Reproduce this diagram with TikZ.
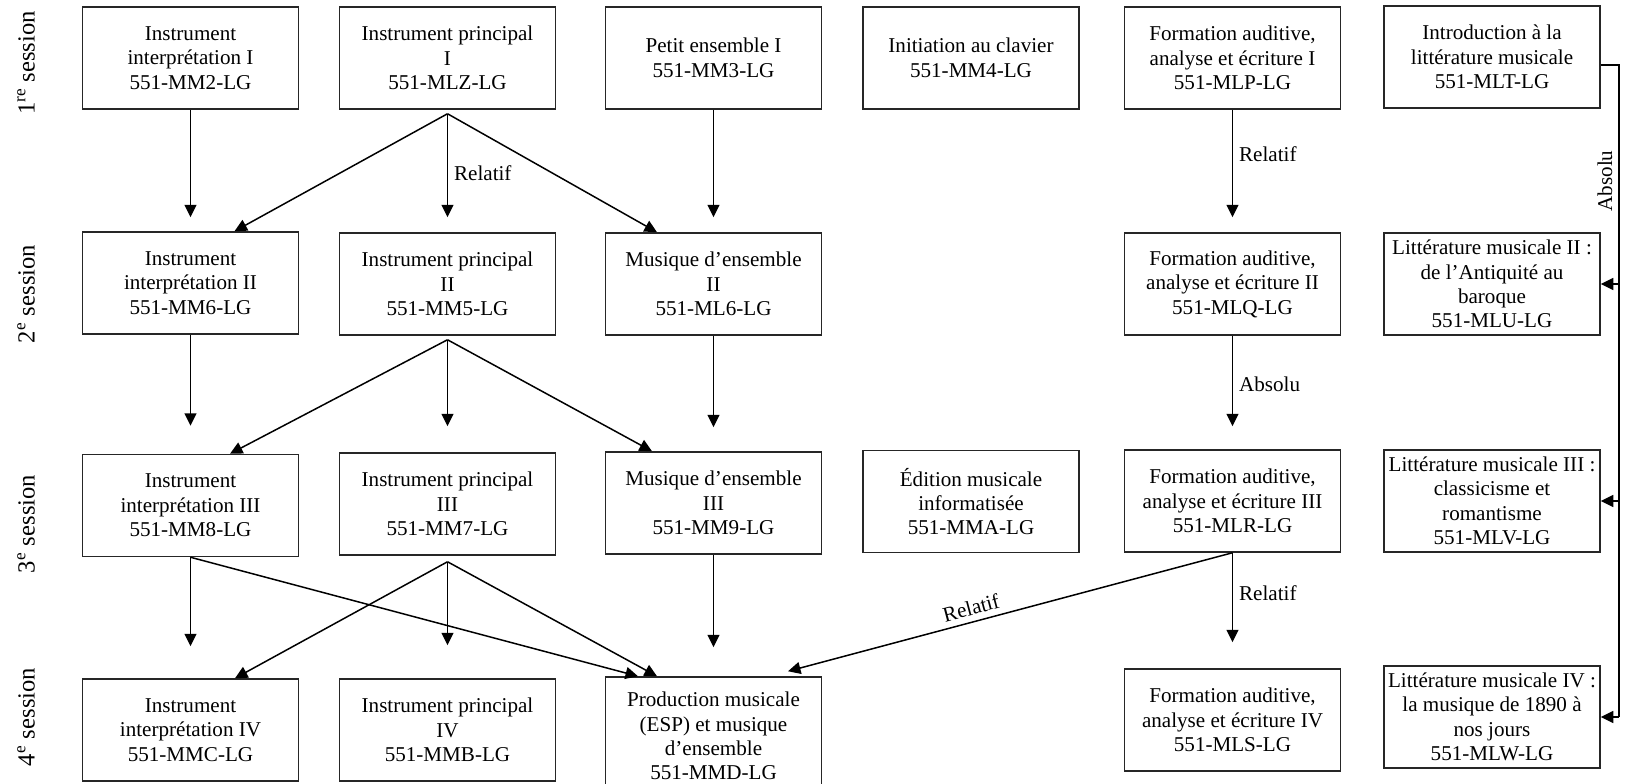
\documentclass[tikz,border=0pt]{standalone}
\usepackage{fontspec}
\setmainfont{Liberation Serif}
\usetikzlibrary{arrows.meta, positioning}

\begin{document}
\begin{tikzpicture}[
            box/.style={draw=black!85, line width=0.85pt, rectangle, minimum width=4.32cm, minimum height=2.04cm, inner sep=1pt, align=center, font=\fontsize{12}{13.9}\selectfont},
            arrow/.style={-{Triangle[length=0.25cm, width=0.24cm]}, line width=0.85pt},
            arrowback/.style={{Triangle[length=0.25cm, width=0.24cm]}-, line width=0.85pt},
            lbl/.style={font=\fontsize{12}{13.9}\selectfont},
            sess/.style={rotate=90, font=\fontsize{14}{16}\selectfont}]

            \useasboundingbox (0,0) rectangle (32.54,-15.68);

            % sessions
            \node[sess] (s1) at (0.52,-1.26) {1\textsuperscript{re} session};
            \node[sess] (s2) at (0.52,-5.88) {2\textsuperscript{e} session};
            \node[sess] (s3) at (0.52,-10.48) {3\textsuperscript{e} session};
            \node[sess] (s4) at (0.52,-14.34) {4\textsuperscript{e} session};

            % 1re session
            \node[box] (int1) at (3.81,-1.16) {Instrument\\interprétation I\\551-MM2-LG};
            \node[box] (ip1) at (8.95,-1.16) {Instrument principal\\I\\551-MLZ-LG};
            \node[box] (pe1) at (14.27,-1.16) {Petit ensemble I\\551-MM3-LG};
            \node[box] (clav) at (19.42,-1.16) {Initiation au clavier\\551-MM4-LG};
            \node[box] (fa1) at (24.65,-1.16) {Formation auditive,\\analyse et écriture I\\551-MLP-LG};
            \node[box] (intro) at (29.84,-1.14) {Introduction à la\\littérature musicale\\551-MLT-LG};

            % 2e session
            \node[box] (int2) at (3.81,-5.66) {Instrument\\interprétation II\\551-MM6-LG};
            \node[box] (ip2) at (8.95,-5.68) {Instrument principal\\II\\551-MM5-LG};
            \node[box] (mus2) at (14.27,-5.68) {Musique d’ensemble\\II\\551-ML6-LG};
            \node[box] (fa2) at (24.65,-5.68) {Formation auditive,\\analyse et écriture II\\551-MLQ-LG};
            \node[box] (lit2) at (29.84,-5.68) {Littérature musicale II :\\de l’Antiquité au\\baroque\\551-MLU-LG};

            % 3e session
            \node[box] (int3) at (3.81,-10.11) {Instrument\\interprétation III\\551-MM8-LG};
            \node[box] (ip3) at (8.95,-10.08) {Instrument principal\\III\\551-MM7-LG};
            \node[box] (mus3) at (14.27,-10.06) {Musique d’ensemble\\III\\551-MM9-LG};
            \node[box] (edit) at (19.42,-10.03) {Édition musicale\\informatisée\\551-MMA-LG};
            \node[box] (fa3) at (24.65,-10.02) {Formation auditive,\\analyse et écriture III\\551-MLR-LG};
            \node[box] (lit3) at (29.84,-10.02) {Littérature musicale III :\\classicisme et\\romantisme\\551-MLV-LG};

            % 4e session
            \node[box] (int4) at (3.81,-14.6) {Instrument\\interprétation IV\\551-MMC-LG};
            \node[box] (ip4) at (8.95,-14.6) {Instrument principal\\IV\\551-MMB-LG};
            \node[box, minimum height=2.36cm] (prod) at (14.27,-14.72) {Production musicale\\(ESP) et musique\\d’ensemble\\551-MMD-LG};
            \node[box] (fa4) at (24.65,-14.4) {Formation auditive,\\analyse et écriture IV\\551-MLS-LG};
            \node[box] (lit4) at (29.84,-14.34) {Littérature musicale IV :\\la musique de 1890 à\\nos jours\\551-MLW-LG};

            \coordinate (ip1f) at ([yshift=-0.08cm]ip1.south);
            \coordinate (ip2f) at ([yshift=-0.08cm]ip2.south);
            \coordinate (ip3f) at ([yshift=-0.12cm]ip3.south);
            \coordinate (rail) at (32.38,-1.30);

            % 1re -> 2e
            \draw[arrow, shorten >=0.28cm] (int1) -- (int2);
            \draw[arrow] (ip1f) -- ([xshift=0.88cm]int2.north);
            \draw[arrow, shorten >=0.3cm] (ip1f) -- node[lbl, right, pos=0.5] {Relatif} (ip2.north);
            \draw[arrow] (ip1f) -- ([xshift=-1.13cm]mus2.north);
            \draw[arrow, shorten >=0.3cm] (pe1) -- (mus2);
            \draw[arrow, shorten >=0.3cm] (fa1) -- node[lbl, right, pos=0.36] {Relatif} (fa2);

            % litterature
            \draw[line width=0.7pt] (intro.east |- rail) -- (rail) -- (rail |- lit4.east);
            \draw[arrow] (rail |- lit2.east) -- (lit2.east);
            \draw[arrow] (rail |- lit3.east) -- (lit3.east);
            \draw[arrow] (rail |- lit4.east) -- (lit4.east);
            \node[lbl, rotate=90] (absolu) at (32.1,-3.62) {Absolu};

            % 2e -> 3e
            \draw[arrow, shorten >=0.56cm] (int2) -- (int3);
            \draw[arrow] (ip2f) -- ([xshift=0.79cm]int3.north);
            \draw[arrow, shorten >=0.52cm] (ip2f) -- (ip3.north);
            \draw[arrow] (ip2f) -- ([xshift=-1.23cm]mus3.north);
            \draw[arrow, shorten >=0.48cm] (mus2) -- (mus3);
            \draw[arrow, shorten >=0.46cm] (fa2) -- node[lbl, right, pos=0.43] {Absolu} (fa3);

            % 3e -> 4e
            \draw[arrow, shorten >=0.64cm] (int3) -- (int4);
            \draw[arrow] (int3.south) -- ([xshift=-1.51cm]prod.north);
            \draw[arrow] (ip3f) -- ([xshift=0.89cm]int4.north);
            \draw[arrow, shorten >=0.66cm] (ip3f) -- (ip4.north);
            \draw[arrow] (ip3f) -- ([xshift=-1.13cm]prod.north);
            \draw[arrow, shorten >=0.58cm] (mus3) -- (prod);
            \draw[arrow, shorten >=0.52cm] (fa3) -- node[lbl, right, pos=0.35] {Relatif} (fa4);
            \draw[arrowback] ([xshift=1.49cm, yshift=0.1cm]prod.north) -- node[lbl, sloped, above, pos=0.42] {Relatif} (fa3.south);
        \end{tikzpicture}
\end{document}
